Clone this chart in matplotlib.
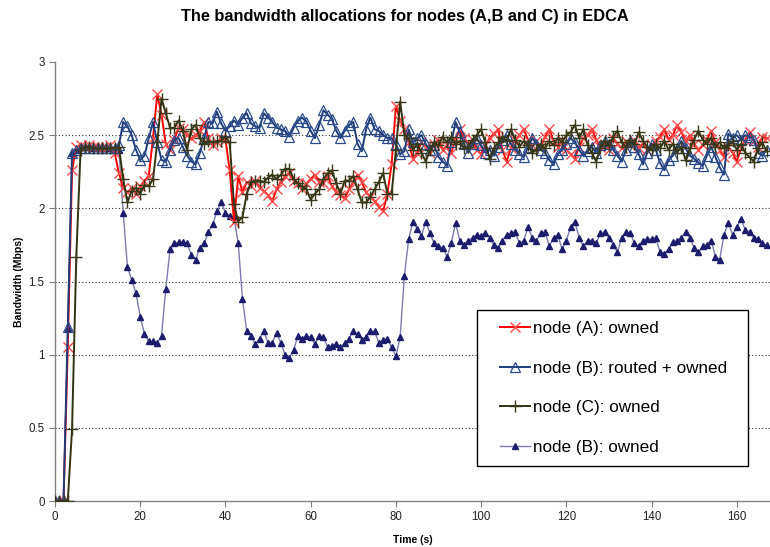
import numpy as np
import matplotlib
matplotlib.use("Agg")
import matplotlib.pyplot as plt
from matplotlib.patches import Rectangle

plt.rcParams['font.family'] = ['Liberation Sans', 'DejaVu Sans']

title = "The bandwidth allocations for nodes (A,B and C) in EDCA"
x_label = "Time (s)"
y_label = "Bandwidth (Mbps)"
labels = ["node (A): owned", "node (B): routed + owned", "node (C): owned", "node (B): owned"]
x_ticks = [0, 20, 40, 60, 80, 100, 120, 140, 160]
y_ticks = [0, 0.5, 1, 1.5, 2, 2.5, 3]
y_tick_labels = ['0', '0.5', '1', '1.5', '2', '2.5', '3']

node_a = [
    0.00, 0.00, 0.00, 1.05, 2.26, 2.42, 2.43, 2.42, 2.43, 2.42,
    2.42, 2.41, 2.42, 2.43, 2.38, 2.24, 2.14, 2.11, 2.14, 2.10,
    2.15, 2.19, 2.22, 2.48, 2.78, 2.64, 2.44, 2.40, 2.47, 2.55,
    2.54, 2.50, 2.48, 2.50, 2.53, 2.59, 2.48, 2.43, 2.45, 2.48,
    2.47, 2.26, 1.91, 2.22, 2.11, 2.18, 2.15, 2.19, 2.14, 2.12,
    2.09, 2.05, 2.13, 2.18, 2.22, 2.24, 2.19, 2.17, 2.13, 2.17,
    2.20, 2.23, 2.18, 2.17, 2.22, 2.15, 2.11, 2.09, 2.07, 2.13,
    2.18, 2.23, 2.18, 2.11, 2.08, 2.05, 2.01, 1.98, 2.10, 2.30,
    2.70, 2.60, 2.54, 2.45, 2.34, 2.38, 2.45, 2.42, 2.38, 2.44,
    2.47, 2.40, 2.43, 2.38, 2.47, 2.54, 2.48, 2.44, 2.47, 2.40,
    2.37, 2.43, 2.48, 2.51, 2.54, 2.40, 2.32, 2.41, 2.47, 2.50,
    2.54, 2.47, 2.43, 2.46, 2.42, 2.49, 2.54, 2.46, 2.42, 2.47,
    2.40, 2.37, 2.34, 2.42, 2.48, 2.50, 2.54, 2.47, 2.42, 2.44,
    2.40, 2.48, 2.44, 2.41, 2.46, 2.43, 2.47, 2.41, 2.44, 2.40,
    2.43, 2.46, 2.49, 2.54, 2.47, 2.50, 2.57, 2.52, 2.46, 2.50,
    2.44, 2.40, 2.43, 2.47, 2.53, 2.45, 2.40, 2.35, 2.42, 2.38,
    2.32, 2.41, 2.47, 2.52, 2.46, 2.42, 2.49, 2.48,
]

node_b_total = [
    0.00, 0.00, 0.00, 1.19, 2.38, 2.40, 2.41, 2.41, 2.41, 2.41,
    2.41, 2.41, 2.41, 2.41, 2.41, 2.43, 2.59, 2.56, 2.50, 2.40,
    2.33, 2.36, 2.48, 2.59, 2.45, 2.33, 2.32, 2.40, 2.47, 2.48,
    2.42, 2.36, 2.32, 2.30, 2.38, 2.48, 2.59, 2.58, 2.66, 2.58,
    2.53, 2.56, 2.60, 2.57, 2.62, 2.65, 2.58, 2.56, 2.55, 2.65,
    2.62, 2.59, 2.55, 2.54, 2.53, 2.49, 2.55, 2.60, 2.62, 2.59,
    2.53, 2.48, 2.57, 2.67, 2.64, 2.61, 2.53, 2.48, 2.53, 2.57,
    2.59, 2.44, 2.39, 2.54, 2.62, 2.54, 2.53, 2.50, 2.48, 2.48,
    2.44, 2.37, 2.39, 2.54, 2.45, 2.48, 2.50, 2.44, 2.40, 2.43,
    2.35, 2.32, 2.29, 2.45, 2.59, 2.52, 2.44, 2.38, 2.44, 2.48,
    2.43, 2.38, 2.40, 2.36, 2.42, 2.47, 2.50, 2.44, 2.40, 2.37,
    2.35, 2.42, 2.48, 2.44, 2.40, 2.38, 2.33, 2.30, 2.37, 2.40,
    2.44, 2.48, 2.45, 2.40, 2.36, 2.39, 2.42, 2.38, 2.43, 2.46,
    2.44, 2.40, 2.36, 2.32, 2.40, 2.46, 2.42, 2.37, 2.30, 2.38,
    2.44, 2.40, 2.31, 2.26, 2.33, 2.36, 2.41, 2.46, 2.41, 2.36,
    2.34, 2.31, 2.29, 2.36, 2.42, 2.35, 2.28, 2.23, 2.51, 2.48,
    2.50, 2.47, 2.50, 2.49, 2.47, 2.38, 2.36, 2.40,
]

node_c = [
    0.00, 0.00, 0.00, 0.00, 0.49, 1.67, 2.40, 2.42, 2.42, 2.41,
    2.41, 2.41, 2.41, 2.41, 2.41, 2.42, 2.20, 2.04, 2.12, 2.14,
    2.10, 2.16, 2.15, 2.20, 2.45, 2.75, 2.65, 2.55, 2.55, 2.60,
    2.53, 2.40, 2.54, 2.57, 2.48, 2.44, 2.46, 2.45, 2.46, 2.46,
    2.49, 2.45, 2.03, 1.91, 1.94, 2.10, 2.18, 2.19, 2.19, 2.18,
    2.21, 2.23, 2.20, 2.23, 2.27, 2.27, 2.20, 2.17, 2.15, 2.13,
    2.06, 2.10, 2.13, 2.20, 2.24, 2.26, 2.17, 2.10, 2.19, 2.19,
    2.22, 2.13, 2.04, 2.04, 2.08, 2.13, 2.18, 2.24, 2.10, 2.10,
    2.40, 2.73, 2.50, 2.48, 2.40, 2.44, 2.38, 2.32, 2.40, 2.45,
    2.43, 2.49, 2.45, 2.49, 2.44, 2.46, 2.41, 2.42, 2.47, 2.50,
    2.54, 2.45, 2.34, 2.41, 2.45, 2.49, 2.46, 2.54, 2.47, 2.42,
    2.46, 2.43, 2.38, 2.40, 2.44, 2.41, 2.46, 2.43, 2.48, 2.45,
    2.50, 2.52, 2.57, 2.48, 2.54, 2.43, 2.38, 2.32, 2.41, 2.46,
    2.43, 2.49, 2.53, 2.45, 2.42, 2.47, 2.44, 2.52, 2.46, 2.42,
    2.40, 2.44, 2.41, 2.46, 2.40, 2.44, 2.38, 2.42, 2.33, 2.41,
    2.47, 2.53, 2.47, 2.44, 2.48, 2.42, 2.45, 2.41, 2.43, 2.46,
    2.40, 2.44, 2.38, 2.35, 2.32, 2.41, 2.45, 2.39,
]

node_b_owned = [
    0.00, 0.00, 0.00, 1.18, 2.38, 2.40, 2.42, 2.42, 2.42, 2.41,
    2.41, 2.41, 2.41, 2.41, 2.40, 2.40, 1.97, 1.60, 1.51, 1.42,
    1.26, 1.14, 1.09, 1.09, 1.08, 1.13, 1.45, 1.72, 1.76, 1.77,
    1.77, 1.76, 1.68, 1.65, 1.73, 1.76, 1.84, 1.89, 1.98, 2.04,
    1.97, 1.95, 1.94, 1.76, 1.38, 1.16, 1.13, 1.07, 1.11, 1.16,
    1.08, 1.08, 1.15, 1.08, 1.00, 0.98, 1.03, 1.13, 1.11, 1.13,
    1.12, 1.07, 1.13, 1.12, 1.05, 1.06, 1.07, 1.05, 1.08, 1.11,
    1.16, 1.14, 1.10, 1.12, 1.16, 1.16, 1.08, 1.10, 1.11, 1.05,
    0.99, 1.12, 1.54, 1.79, 1.91, 1.86, 1.81, 1.91, 1.83, 1.76,
    1.74, 1.73, 1.67, 1.76, 1.90, 1.78, 1.75, 1.78, 1.80, 1.82,
    1.81, 1.83, 1.80, 1.75, 1.73, 1.78, 1.82, 1.83, 1.84, 1.76,
    1.78, 1.87, 1.80, 1.78, 1.83, 1.84, 1.74, 1.80, 1.82, 1.72,
    1.78, 1.87, 1.91, 1.80, 1.74, 1.78, 1.78, 1.76, 1.83, 1.84,
    1.80, 1.75, 1.70, 1.80, 1.84, 1.83, 1.76, 1.74, 1.78, 1.79,
    1.79, 1.80, 1.70, 1.69, 1.72, 1.77, 1.78, 1.80, 1.84, 1.80,
    1.73, 1.70, 1.74, 1.75, 1.78, 1.67, 1.65, 1.82, 1.90, 1.82,
    1.87, 1.93, 1.85, 1.84, 1.80, 1.79, 1.76, 1.75,
]

fig = plt.figure(figsize=(7.70, 5.47), dpi=100)
ax = fig.add_axes([55 / 770, 46 / 547, 715 / 770, 439 / 547])

ax.plot(np.arange(len(node_a)), node_a, color='#ff0000', lw=1.4,
        marker='x', ms=7.5, mew=1.0, mec='#ff4a4a', label=labels[0], zorder=3)
ax.plot(np.arange(len(node_b_total)), node_b_total, color='#1f3c78', lw=1.4,
        marker='^', ms=7, mew=0.9, mfc='none', mec='#2a4a8a', label=labels[1], zorder=4)
ax.plot(np.arange(len(node_c)), node_c, color='#333311', lw=1.4,
        marker='+', ms=8, mew=1.0, mec='#3a3a1a', label=labels[2], zorder=5)
ax.plot(np.arange(len(node_b_owned)), node_b_owned, color='#7c7cae', lw=1.0,
        marker='^', ms=4.5, mfc='#1c1c6c', mec='#1c1c6c', label=labels[3], zorder=2)

ax.set_xlim(0, 167.8)
ax.set_ylim(0, 3)
ax.set_xticks(x_ticks)
ax.set_yticks(y_ticks)
ax.set_yticklabels(y_tick_labels)

for s in ['top', 'right']:
    ax.spines[s].set_visible(False)
for s in ['left', 'bottom']:
    ax.spines[s].set_color('#808080')
    ax.spines[s].set_linewidth(1.0)

ax.tick_params(axis='both', labelsize=8.3, labelcolor='#222222', length=4,
               width=0.8, direction='out', color='#808080')
ax.yaxis.grid(True, linestyle=(0, (1, 2)), color='#333333', linewidth=0.8)
gl = ax.yaxis.get_gridlines()
gl[0].set_visible(False)
gl[-1].set_visible(False)
ax.set_axisbelow(True)

ax.set_xlabel(x_label, fontsize=7.5, fontweight='bold', labelpad=8)
ax.set_ylabel(y_label, fontsize=7.5, fontweight='bold', labelpad=3)

fig.text(405 / 770, 1 - 16 / 547, title, ha='center', va='center',
         fontsize=11.8, fontweight='bold')

# legend frame drawn in axes coordinates
x0 = (477 - 55) / 715
y0 = (501 - 466) / 439
w = (748 - 477) / 715
h = (466 - 310) / 439
frame = Rectangle((x0, y0), w, h, transform=ax.transAxes, facecolor='white',
                  edgecolor='black', linewidth=1.0, zorder=9)
ax.add_patch(frame)

leg = ax.legend(loc='center left', bbox_to_anchor=((500 - 55) / 715, (501 - 388) / 439),
                fontsize=12.3, frameon=False, borderpad=0,
                labelspacing=1.45, handlelength=1.75, handletextpad=0.2,
                borderaxespad=0)
leg.set_zorder(10)

fig.savefig('out.png', dpi=100)
